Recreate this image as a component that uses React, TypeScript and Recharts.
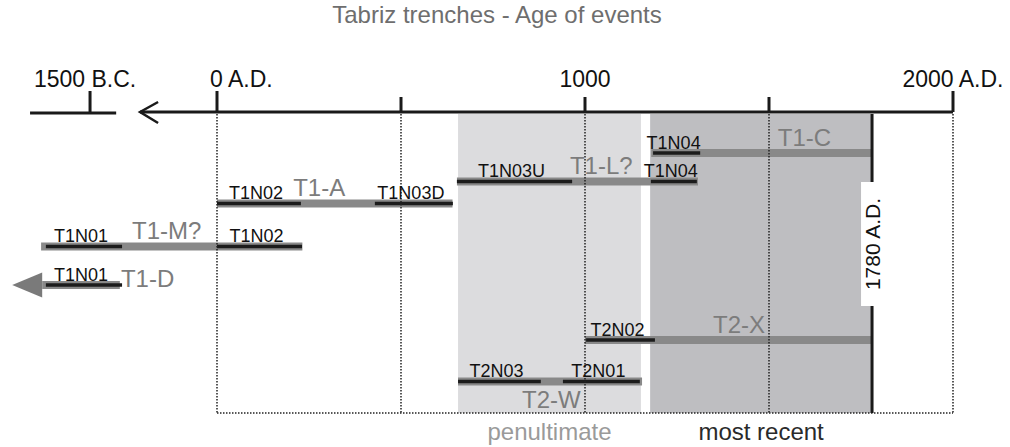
import React from 'react';
import { ComposedChart, XAxis, YAxis, ReferenceArea, ReferenceLine, Scatter } from 'recharts';

document.body.style.margin = '0';

// x values are years A.D.; the stretch left of 0 A.D. is a compressed (broken) B.C. part
const axisTicks = [-345, 0, 500, 1000, 1500, 2000];
const axisTickLabels = ['1500 B.C.', '0 A.D.', '', '1000', '', '2000 A.D.'];
const tallTicks = [-345, 0, 2000];
const gridYears = [0, 500, 1000, 1500, 2000];
const endYear = 1780;

// lanes are row positions in the timeline (0 = axis, 30 = bottom of frame)
const eventNames = ['T1-C', 'T1-L?', 'T1-A', 'T1-M?', 'T1-D', 'T2-X', 'T2-W'];
const eventLanes = [4.1, 6.95, 9.15, 13.45, 17.3, 22.8, 26.95];
const eventFrom = [1180, 652, 0, -478, -475, 1000, 655];
const eventTo = [1780, 1307, 640, 232, -264, 1780, 1155];
const eventLabelAt = [1524, 959, 207, -231, -261, 1348, 829];

const sampleNames = ['T1N04', 'T1N03U', 'T1N04', 'T1N02', 'T1N03D', 'T1N01', 'T1N02', 'T1N01', 'T2N02', 'T2N03', 'T2N01'];
const sampleEvent = [0, 1, 1, 2, 2, 3, 3, 4, 5, 6, 6];
const sampleFrom = [1185, 652, 1179, 0, 429, -465, 0, -465, 1003, 655, 940];
const sampleTo = [1313, 965, 1304, 228, 641, -258, 231, -258, 1190, 880, 1149];

const periodNames = ['penultimate', 'most recent'];
const periodFrom = [655, 1177];
const periodTo = [1152, 1780];
const periodColors = ['#9a9a9a', '#2a2a2a'];

const FONT = '"Liberation Sans", Arial, Helvetica, sans-serif';
const frameTop = 0.2;
const frameBottom = 30.1;

const eventLabels = eventNames.map((name, i) => ({ x: eventLabelAt[i], y: eventLanes[i], text: name }));
const sampleLabels = sampleNames.map((name, i) => ({
  x: (sampleFrom[i] + sampleTo[i]) / 2,
  y: eventLanes[sampleEvent[i]],
  text: name,
}));
const periodLabels = periodNames.map((name, i) => ({
  x: (periodFrom[i] + periodTo[i]) / 2,
  y: 32.8,
  text: name,
  color: periodColors[i],
}));
const axisArrow = [{ x: -209, y: 0 }];
const olderArrow = [{ x: eventFrom[4], y: eventLanes[4] }];
const endMarker = [{ x: endYear, y: 13.2 }];

const AxisTick = (props: any) => {
  const { x, payload } = props;
  const i = axisTicks.indexOf(payload.value);
  const label = axisTickLabels[i];
  const tall = tallTicks.includes(payload.value);
  const start = payload.value === 0;
  return (
    <g>
      <line x1={x} x2={x} y1={tall ? 91 : 97} y2={112} stroke="#1a1a1a" strokeWidth={3} />
      {label !== '' && (
        <text
          x={start ? x - 7 : payload.value < 0 ? x - 5 : x}
          y={87}
          textAnchor={start ? 'start' : 'middle'}
          fontSize={23}
          fontFamily={FONT}
          fill="#111"
        >
          {label}
        </text>
      )}
    </g>
  );
};

const eventLabelShape = (props: any) => {
  const { cx, cy, payload } = props;
  let dy = -7.5;
  if (payload.text === 'T1-D') dy = 2;
  if (payload.text === 'T2-W') dy = 26.5;
  return (
    <text x={cx} y={cy + dy} fontSize={24} fontFamily={FONT} fill="#7c7c7c">
      {payload.text}
    </text>
  );
};

const sampleLabelShape = (props: any) => {
  const { cx, cy, payload } = props;
  return (
    <text x={cx - 3} y={cy - 4.5} textAnchor="middle" fontSize={18} fontFamily={FONT} fill="#111">
      {payload.text}
    </text>
  );
};

const periodLabelShape = (props: any) => {
  const { cx, cy, payload } = props;
  return (
    <text x={cx} y={cy} textAnchor="middle" fontSize={24} fontFamily={FONT} fill={payload.color}>
      {payload.text}
    </text>
  );
};

const axisArrowShape = (props: any) => {
  const { cx, cy } = props;
  return (
    <polyline
      points={`${cx + 18},${cy - 10} ${cx},${cy} ${cx + 18},${cy + 11}`}
      fill="none"
      stroke="#1a1a1a"
      strokeWidth={2.5}
    />
  );
};

const olderArrowShape = (props: any) => {
  const { cx, cy } = props;
  return <polygon points={`${cx},${cy - 12.5} ${cx - 30},${cy} ${cx},${cy + 12.5}`} fill="#7a7a7a" />;
};

const endMarkerShape = (props: any) => {
  const { cx, cy } = props;
  return (
    <g>
      <rect x={cx - 11} y={cy - 62} width={22} height={124} fill="#fff" />
      <text
        x={cx}
        y={cy}
        transform={`rotate(-90 ${cx} ${cy})`}
        textAnchor="middle"
        dominantBaseline="central"
        fontSize={21}
        fontFamily={FONT}
        fill="#111"
      >
        1780 A.D.
      </text>
    </g>
  );
};

export default function App() {
  return (
    <div style={{ position: 'relative', width: 1010, height: 447, background: '#fff' }}>
      <ComposedChart width={1010} height={447} margin={{ top: 0, right: 0, bottom: 0, left: 0 }}>
        <XAxis
          dataKey="x"
          type="number"
          orientation="top"
          domain={[-589.67, 2154.89]}
          allowDataOverflow
          ticks={axisTicks}
          interval={0}
          height={30}
          axisLine={false}
          tickLine={false}
          tick={(p: any) => <AxisTick {...p} />}
        />
        <YAxis dataKey="y" type="number" domain={[-8.2, 33.5]} reversed hide allowDataOverflow width={0} />

        {periodNames.map((p, i) => (
          <ReferenceArea
            key={p}
            x1={periodFrom[i]}
            x2={periodTo[i]}
            y1={frameTop}
            y2={frameBottom}
            fill={i === 0 ? '#dcdcde' : '#bebec1'}
            fillOpacity={1}
            stroke="none"
          />
        ))}

        {/* main axis and the broken B.C. part */}
        <ReferenceLine segment={[{ x: -209, y: 0 }, { x: 2000, y: 0 }]} stroke="#1a1a1a" strokeWidth={3} />
        <ReferenceLine segment={[{ x: -508, y: 0.1 }, { x: -274, y: 0.1 }]} stroke="#1a1a1a" strokeWidth={3} />

        {eventNames.map((e, i) => (
          <ReferenceLine
            key={e}
            segment={[{ x: eventFrom[i], y: eventLanes[i] }, { x: eventTo[i], y: eventLanes[i] }]}
            stroke="#898989"
            strokeWidth={8}
          />
        ))}
        {sampleNames.map((s, i) => (
          <ReferenceLine
            key={s + i}
            segment={[{ x: sampleFrom[i], y: eventLanes[sampleEvent[i]] }, { x: sampleTo[i], y: eventLanes[sampleEvent[i]] }]}
            stroke="#1c1c1c"
            strokeWidth={3.5}
          />
        ))}

        {/* dotted frame */}
        {gridYears.map((g) => (
          <ReferenceLine
            key={g}
            segment={[{ x: g, y: frameTop }, { x: g, y: frameBottom }]}
            stroke="#222"
            strokeWidth={1.5}
            strokeDasharray="1.5 1.5"
          />
        ))}
        <ReferenceLine
          segment={[{ x: 0, y: frameBottom }, { x: 2000, y: frameBottom }]}
          stroke="#222"
          strokeWidth={1.5}
          strokeDasharray="1.5 1.5"
        />
        <ReferenceLine
          segment={[{ x: endYear, y: frameTop }, { x: endYear, y: frameBottom }]}
          stroke="#1a1a1a"
          strokeWidth={3}
        />

        <Scatter data={axisArrow} shape={axisArrowShape} isAnimationActive={false} />
        <Scatter data={olderArrow} shape={olderArrowShape} isAnimationActive={false} />
        <Scatter data={endMarker} shape={endMarkerShape} isAnimationActive={false} />
        <Scatter data={eventLabels} shape={eventLabelShape} isAnimationActive={false} />
        <Scatter data={sampleLabels} shape={sampleLabelShape} isAnimationActive={false} />
        <Scatter data={periodLabels} shape={periodLabelShape} isAnimationActive={false} />
      </ComposedChart>
      <svg width={1010} height={447} style={{ position: 'absolute', left: 0, top: 0, pointerEvents: 'none' }}>
        <text x={497} y={23} textAnchor="middle" fontSize={24} fontFamily={FONT} fill="#6e6e6e">
          Tabriz trenches - Age of events
        </text>
      </svg>
    </div>
  );
}
